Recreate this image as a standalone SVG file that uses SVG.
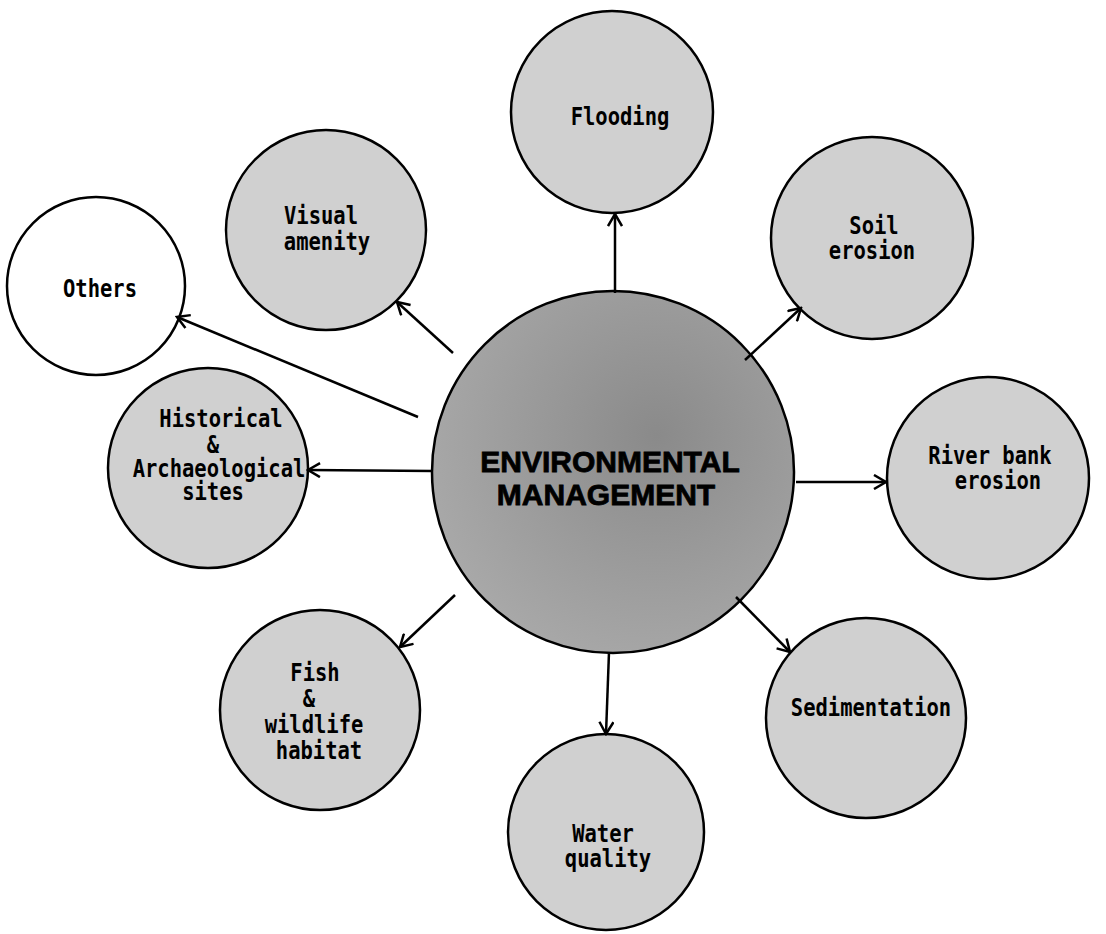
<svg xmlns="http://www.w3.org/2000/svg" width="1106" height="934" viewBox="0 0 1106 934">
  <style>
    .node { fill: #d0d0d0; stroke: #000; stroke-width: 2.5; }
    .white { fill: #ffffff; stroke: #000; stroke-width: 2.5; }
    .lbl { font-family: "DejaVu Sans Mono", "Liberation Mono", monospace; font-weight: bold; font-size: 20.5px; fill: #000; text-anchor: middle; }
    .big { font-family: "Liberation Sans", Arial, sans-serif; font-weight: bold; font-size: 30px; fill: #000; stroke: #000; stroke-width: 0.8; text-anchor: middle; }
    .conn { stroke: #000; stroke-width: 2.5; fill: none; marker-end: url(#arr); }
  </style>
  <defs>
    <radialGradient id="cg" cx="0.62" cy="0.4" r="0.65">
      <stop offset="0" stop-color="#8a8a8a"/>
      <stop offset="1" stop-color="#a8a8a8"/>
    </radialGradient>
    <marker id="arr" markerUnits="userSpaceOnUse" markerWidth="16" markerHeight="16" viewBox="0 0 16 16" refX="14" refY="8" orient="auto">
      <path d="M2,1 L14,8 L2,15" stroke="#000" stroke-width="2.5" fill="none"/>
    </marker>
  </defs>
  <rect width="1106" height="934" fill="#fff"/>

  <g id="central">
    <circle cx="613" cy="472" r="181" fill="url(#cg)" stroke="#000" stroke-width="2.5"/>
    <text class="big" x="610" y="472">ENVIRONMENTAL</text>
    <text class="big" x="606" y="505">MANAGEMENT</text>
  </g>
  <g id="flooding">
    <circle class="node" cx="612" cy="112" r="101"/>
    <text class="lbl" transform="translate(620,125) scale(1,1.18)">Flooding</text>
  </g>
  <g id="soil-erosion">
    <circle class="node" cx="872" cy="238" r="101"/>
    <text class="lbl" transform="translate(874,234) scale(1,1.18)">Soil</text>
    <text class="lbl" transform="translate(872,259) scale(1,1.18)">erosion</text>
  </g>
  <g id="river-bank-erosion">
    <circle class="node" cx="988" cy="478" r="101"/>
    <text class="lbl" transform="translate(990,464) scale(1,1.18)">River bank</text>
    <text class="lbl" transform="translate(998,489) scale(1,1.18)">erosion</text>
  </g>
  <g id="sedimentation">
    <circle class="node" cx="866" cy="718" r="100"/>
    <text class="lbl" transform="translate(871,716) scale(1,1.18)">Sedimentation</text>
  </g>
  <g id="water-quality">
    <circle class="node" cx="606" cy="832" r="98"/>
    <text class="lbl" transform="translate(603,842) scale(1,1.18)">Water</text>
    <text class="lbl" transform="translate(608,867) scale(1,1.18)">quality</text>
  </g>
  <g id="fish-wildlife">
    <circle class="node" cx="320" cy="710" r="100"/>
    <text class="lbl" transform="translate(315,681) scale(1,1.18)">Fish</text>
    <text class="lbl" transform="translate(309,707) scale(1,1.18)">&amp;</text>
    <text class="lbl" transform="translate(314,733) scale(1,1.18)">wildlife</text>
    <text class="lbl" transform="translate(319,759) scale(1,1.18)">habitat</text>
  </g>
  <g id="historical">
    <circle class="node" cx="208" cy="468" r="100"/>
    <text class="lbl" transform="translate(221,427) scale(1,1.18)">Historical</text>
    <text class="lbl" transform="translate(213,453) scale(1,1.18)">&amp;</text>
    <text class="lbl" transform="translate(219,477) scale(1,1.18)">Archaeological</text>
    <text class="lbl" transform="translate(213,500) scale(1,1.18)">sites</text>
  </g>
  <g id="others">
    <circle class="white" cx="96" cy="286" r="89"/>
    <text class="lbl" transform="translate(100,297) scale(1,1.18)">Others</text>
  </g>
  <g id="visual-amenity">
    <circle class="node" cx="326" cy="230" r="100"/>
    <text class="lbl" transform="translate(321,224) scale(1,1.18)">Visual</text>
    <text class="lbl" transform="translate(327,250) scale(1,1.18)">amenity</text>
  </g>

  <g id="connectors">
    <line class="conn" x1="615" y1="293" x2="615" y2="214"/>
    <line class="conn" x1="745" y1="360" x2="801" y2="308"/>
    <line class="conn" x1="796" y1="482" x2="886" y2="482"/>
    <line class="conn" x1="736" y1="597" x2="790" y2="652"/>
    <line class="conn" x1="609" y1="652" x2="606" y2="734"/>
    <line class="conn" x1="455" y1="595" x2="400" y2="647"/>
    <line class="conn" x1="433" y1="471" x2="308" y2="470"/>
    <line class="conn" x1="418" y1="417" x2="177" y2="317"/>
    <line class="conn" x1="453" y1="353" x2="397" y2="302"/>
  </g>
</svg>
